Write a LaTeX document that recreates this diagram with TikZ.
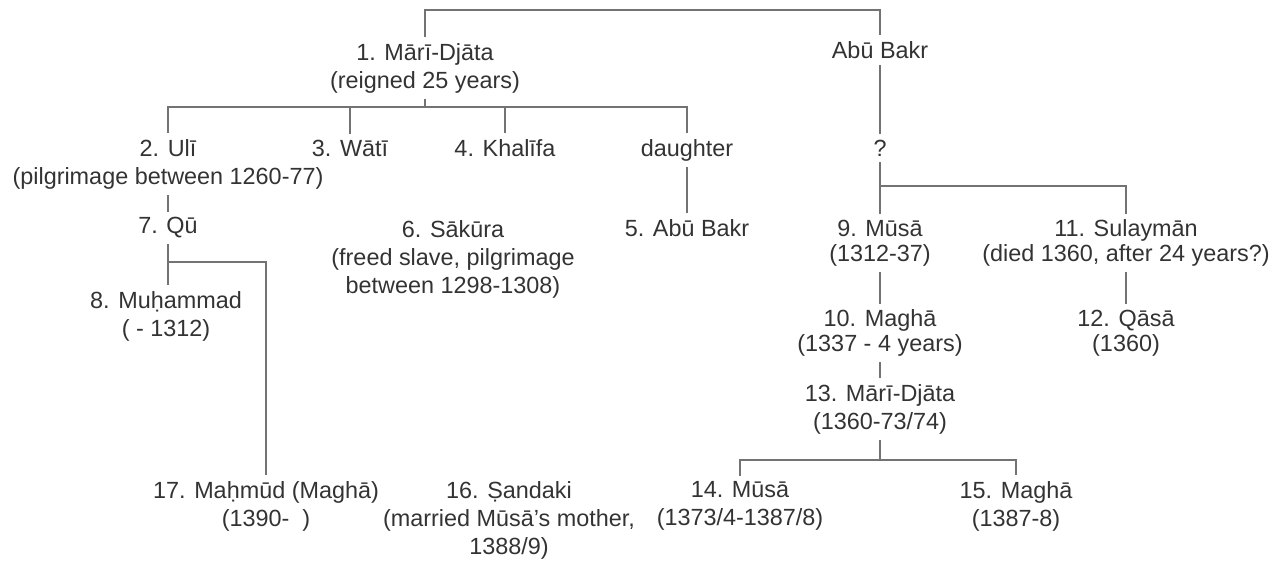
\documentclass[tikz,border=0pt]{standalone}
\usepackage{fontspec}
\setmainfont{Liberation Sans}
\begin{document}
\begin{tikzpicture}[x=0.5pt, y=-0.5pt, line width=1.2pt, line cap=rect,
	font=\fontsize{11.7}{14}\selectfont,
	every node/.style={text=black!80, align=center, inner xsep=2pt, inner ysep=3pt},
	tight/.style={font=\fontsize{11.7}{12.5}\selectfont},
	link/.style={draw=black!55}]

	% Bildrahmen
	\useasboundingbox (0,0) rectangle (1272,561);

	% Personen
	\node (m1) at (425,68) {1. Mārī-Djāta\\(reigned 25 years)};
	\node (abu) at (880,50) {Abū Bakr};
	\node (uli) at (168,164) {2. Ulī\\(pilgrimage between 1260-77)};
	\node (wati) at (350,148) {3. Wātī};
	\node (khal) at (505,148) {4. Khalīfa};
	\node (dau) at (687,150) {daughter};
	\node (q) at (880,148) {?};
	\node (qu) at (168,228) {7. Qū};
	\node (sak) at (453,259) {6. Sākūra\\(freed slave, pilgrimage\\between 1298-1308)};
	\node (ab5) at (687,228) {5. Abū Bakr};
	\node[tight] (musa9) at (880,243) {9. Mūsā\\(1312-37)};
	\node[tight] (sul) at (1126,243) {11. Sulaymān\\(died 1360, after 24 years?)};
	\node (muh) at (166,316) {8. Muḥammad\\( - 1312)};
	\node[tight] (magha10) at (880,333) {10. Maghā\\(1337 - 4 years)};
	\node[tight] (qasa12) at (1126,333) {12. Qāsā\\(1360)};
	\node (mari13) at (880,409) {13. Mārī-Djāta\\(1360-73/74)};
	\node (mahmud17) at (266,506) {17. Maḥmūd (Maghā)\\(1390-\ \ )};
	\node (sandaki16) at (509,520) {16. Ṣandaki\\(married Mūsā's mother,\\1388/9)};
	\node (musa14) at (740,506) {14. Mūsā\\(1373/4-1387/8)};
	\node (magha15) at (1016,506) {15. Maghā\\(1387-8)};

	% Knoten der Linien
	\coordinate (top) at (650,10);
	\coordinate (m1bar) at (425,107);
	\coordinate (qbar) at (880,186);
	\coordinate (qubar) at (168,262);
	\coordinate (m13bar) at (880,460);

	% Linien
	\draw[link] (m1.north) |- (top) -| (abu.north);
	\draw[link] (m1.south) -- (m1bar);
	\draw[link] (uli.north) |- (m1bar) -| (dau.north);
	\draw[link] (wati.north) -- (wati.north |- m1bar);
	\draw[link] (khal.north) -- (khal.north |- m1bar);
	\draw[link] (abu.south) -- (q.north);
	\draw[link] (q.south) -- (musa9.north);
	\draw[link] (qbar) -| (sul.north);
	\draw[link] (dau.south) -- (ab5.north);
	\draw[link] (uli.south) -- (qu.north);
	\draw[link] (qu.south) -- (qu.south |- muh.north);
	\draw[link] (qubar) -| (mahmud17.north);
	\draw[link] (musa9.south) -- (magha10.north);
	\draw[link] (magha10.south) -- (mari13.north);
	\draw[link] (sul.south) -- (qasa12.north);
	\draw[link] (mari13.south) -- (m13bar);
	\draw[link] (musa14.north) |- (m13bar) -| (magha15.north);

\end{tikzpicture}
\end{document}
